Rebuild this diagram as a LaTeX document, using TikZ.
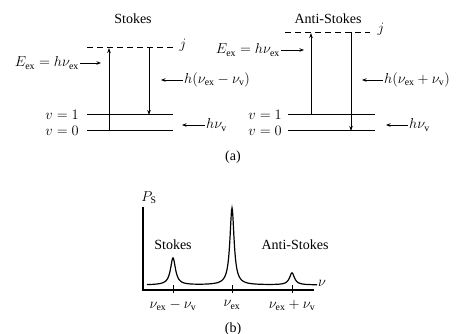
\documentclass[tikz,border=0pt]{standalone}
\usepackage{fontspec}
\setmainfont{Liberation Serif}
\usepackage{amsmath}
\usetikzlibrary{arrows.meta, positioning}

\begin{document}
\begin{tikzpicture}[x=1pt, y=-1pt, every node/.style={font=\fontsize{14}{16}\selectfont, inner sep=1pt},
	level/.style={line width=1pt},
	virt/.style={line width=0.9pt, dash pattern=on 6pt off 4pt},
	trans/.style={line width=0.8pt, -{Stealth[length=5pt, width=3.5pt]}},
	lbl/.style={line width=0.9pt, -{Stealth[length=4.5pt, width=3.5pt]}},
	axis/.style={line width=1.4pt},
	spec/.style={line width=1.2pt}]
	\useasboundingbox (0,0) rectangle (463,334);

	% (a) Stokes
	\node (stTitle) at (133,19) {Stokes};
	\draw[virt] (87,47) -- (173,47);
	\node (sj) at (183,45) {$j$};
	\draw[level] (87,115) -- (173,115);
	\draw[level] (87,131) -- (173,131);
	\node[left] (sv1) at (80,115) {$v = 1$};
	\node[left] (sv0) at (80,131) {$v = 0$};
	\coordinate (sUpA) at (109,131);
	\coordinate (sUpB) at (109,48);
	\coordinate (sDnA) at (149,47);
	\coordinate (sDnB) at (149,115);
	\draw[trans] (sUpA) -- (sUpB);
	\draw[trans] (sDnA) -- (sDnB);
	\node[left] (sEx) at (80,63) {$E_{\mathrm{ex}} = h\nu_{\mathrm{ex}}$};
	\coordinate (sExT) at (101,63);
	\draw[lbl] (sEx) -- (sExT);
	\node[right] (sOut) at (183,80) {$h(\nu_{\mathrm{ex}} - \nu_{\mathrm{v}})$};
	\coordinate (sOutT) at (161,80);
	\draw[lbl] (sOut) -- (sOutT);
	\node[right] (sVib) at (205,125) {$h\nu_{\mathrm{v}}$};
	\coordinate (sVibT) at (182,125);
	\draw[lbl] (sVib) -- (sVibT);

	% (a) Anti-Stokes
	\node (asTitle) at (328,19) {Anti-Stokes};
	\draw[virt] (285,32) -- (370,32);
	\node (aj) at (381,29) {$j$};
	\draw[level] (288,115) -- (375,115);
	\draw[level] (288,131) -- (375,131);
	\node[left] (av1) at (283,115) {$v = 1$};
	\node[left] (av0) at (283,131) {$v = 0$};
	\coordinate (aUpA) at (311,115);
	\coordinate (aUpB) at (311,33);
	\coordinate (aDnA) at (351,32);
	\coordinate (aDnB) at (351,131);
	\draw[trans] (aUpA) -- (aUpB);
	\draw[trans] (aDnA) -- (aDnB);
	\node[left] (aEx) at (281,50) {$E_{\mathrm{ex}} = h\nu_{\mathrm{ex}}$};
	\coordinate (aExT) at (304,50);
	\draw[lbl] (aEx) -- (aExT);
	\node[right] (aOut) at (383,80) {$h(\nu_{\mathrm{ex}} + \nu_{\mathrm{v}})$};
	\coordinate (aOutT) at (362,80);
	\draw[lbl] (aOut) -- (aOutT);
	\node[right] (aVib) at (408,125) {$h\nu_{\mathrm{v}}$};
	\coordinate (aVibT) at (386,125);
	\draw[lbl] (aVib) -- (aVibT);

	\node (capA) at (233,157) {(a)};

	% (b) spectrum
	\coordinate (O) at (143,290);
	\coordinate (yTop) at (143,207);
	\coordinate (xEnd) at (314,290);
	\draw[axis] (yTop) -- (O) -- (xEnd);
	\node[above] (ps) at (149,205) {$P_{\mathrm{S}}$};
	\node (nu) at (322,283) {$\nu$};
	\foreach \x in {173,232,292}
		\draw[line width=0.8pt] (\x,285) -- (\x,293);
	\draw[spec] plot[domain=147:317, samples=341] (\x, {285 - 27*0.09/(((\x-173)/10)^2+0.09) - 77*0.0625/(((\x-232)/10)^2+0.0625) - 12*0.09/(((\x-292)/10)^2+0.09)});
	\node (pkS) at (173,245) {Stokes};
	\node (pkA) at (295,245) {Anti-Stokes};
	\node (tS) at (173,305) {$\nu_{\mathrm{ex}} - \nu_{\mathrm{v}}$};
	\node (tR) at (232,305) {$\nu_{\mathrm{ex}}$};
	\node (tA) at (292,305) {$\nu_{\mathrm{ex}} + \nu_{\mathrm{v}}$};

	\node (capB) at (233,329) {(b)};
\end{tikzpicture}
\end{document}
